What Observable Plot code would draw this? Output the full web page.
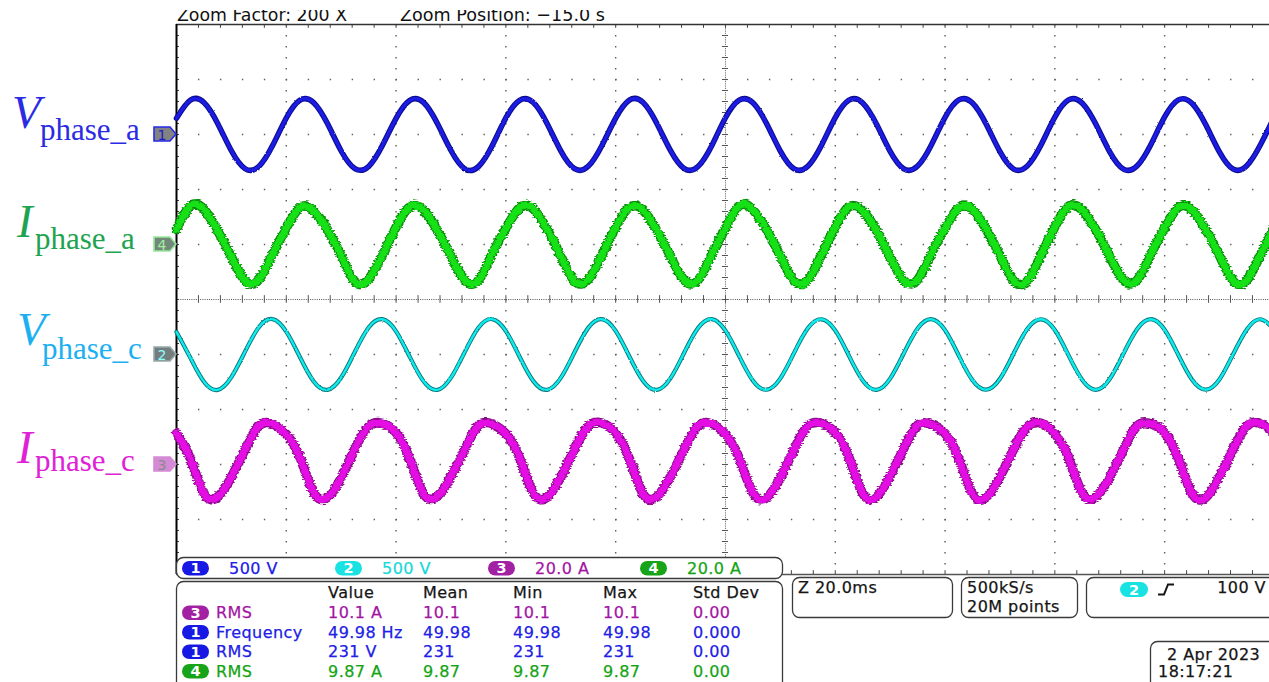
<!DOCTYPE html>
<html><head><meta charset="utf-8">
<script src="https://cdn.jsdelivr.net/npm/d3@7"></script>
<script src="https://cdn.jsdelivr.net/npm/@observablehq/plot@0.6"></script>
<style>
html,body{margin:0;padding:0;background:#fff;overflow:hidden;}
#chart svg{display:block;}
</style></head><body><div id="chart"></div>
<script>
// ---- sample instants (ms from left edge of the zoom window) ----
const timeMs = [0,2.5,5,7.5,10,12.5,15,17.5,20,22.5,25,27.5,30,32.5,35,37.5,40,42.5,45,47.5,50,52.5,55,57.5,60,62.5,65,67.5,70,72.5,75,77.5,80,82.5,85,87.5,90,92.5,95,97.5,100,102.5,105,107.5,110,112.5,115,117.5,120,122.5,125,127.5,130,132.5,135,137.5,140,142.5,145,147.5,150,152.5,155,157.5,160,162.5,165,167.5,170,172.5,175,177.5,180,182.5,185,187.5,190,192.5,195,197.5,200];

// ---- channel 1: V phase_a (V) ----
const vPhaseA = [
148,311,291,101,-148,-311,-291,-101,
150,312,289,99,-150,-310,-290,-100,
147,310,292,102,-146,-312,-292,-103,
151,311,290,100,-149,-311,-289,-99,
149,313,291,101,-147,-310,-291,-102,
152,312,288,98,-151,-312,-288,-97,
154,313,287,95,-154,-313,-287,-95,
156,314,286,93,-156,-314,-285,-93,
158,315,284,90,-158,-315,-284,-90,
160,315,282,88,-160,-315,-282,-88,
162];
// ---- channel 4: I phase_a (A) ----
const iPhaseA = [
5.5,14,12.8,5,-4.5,-13.2,-12.8,-3.5,
6,13.5,12.2,5.4,-4,-13.5,-12.6,-3.8,
6.3,13.8,12.5,5.2,-4.3,-12.9,-13.1,-3.4,
5.8,13.4,12.9,5.6,-4.1,-13.3,-12.7,-3.9,
6.2,13.6,12.4,5.1,-4.4,-13,-13,-3.6,
6,14.1,12.6,5.3,-4.2,-13.4,-12.9,-3.7,
6.5,13.7,12.3,5,-4.6,-13.1,-12.8,-3.3,
5.9,13.5,12.7,5.5,-4,-13.2,-13.2,-3.8,
6.4,13.9,12.4,5.2,-4.3,-13,-12.9,-3.5,
6.1,13.6,12.6,5.4,-4.1,-13.3,-13,-3.6,
6.2];
// ---- channel 2: V phase_c (V) ----
const vPhaseC = [
205,-28,-248,-322,-206,28,248,322,
208,-25,-246,-321,-209,25,246,321,
211,-22,-244,-322,-211,22,244,322,
213,-20,-242,-321,-213,20,242,321,
215,-18,-240,-322,-215,18,240,322,
217,-15,-238,-320,-217,15,238,320,
219,-12,-236,-321,-219,12,236,321,
221,-10,-234,-320,-221,10,234,320,
223,-8,-232,-321,-223,8,232,321,
225,-5,-230,-320,-225,5,230,320,
227];
// ---- channel 3: I phase_c (A) ----
const iPhaseC = [
11.3,2.2,-10.5,-11.8,-4.5,5.5,14,14.8,
11.0,2.5,-10.2,-12,-4.8,5.8,13.8,15,
11.5,2,-10.6,-11.6,-4.3,5.4,14.2,14.7,
11.2,2.4,-10.4,-11.9,-4.6,5.6,13.9,15.1,
11.4,2.1,-10.7,-11.7,-4.4,5.7,14.1,14.8,
11.1,2.3,-10.3,-12.1,-4.7,5.5,14,14.9,
11.6,2.6,-10.5,-11.8,-4.2,5.9,14.3,14.6,
11.3,2.2,-10.8,-11.9,-4.5,5.6,13.8,15,
11.2,2.4,-10.4,-11.7,-4.6,5.4,14.1,14.8,
11.5,2.1,-10.6,-12,-4.4,5.7,14,14.9,
11.3];

// ---- channel setup ----
const traceNames = ["V_phase_a","I_phase_a","V_phase_c","I_phase_c"];
const traceChannels = [1,4,2,3];
const traceOffsetsDiv = [3,1,-1,-3];
const traceUnitsPerDiv = [500,20,500,20];
const labelMain = ["V","I","V","I"];
const labelSub = ["phase_a","phase_a","phase_c","phase_c"];

// ---- on-screen readouts ----
const headerTexts = ["Zoom Factor: 200 X","Zoom Position: \u221215.0 s"];
const scaleChannels = [1,2,3,4];
const scaleLabels = ["500 V","500 V","20.0 A","20.0 A"];
const measureHeaders = ["Value","Mean","Min","Max","Std Dev"];
const measureChannels = [3,1,1,4];
const measureNames = ["RMS","Frequency","RMS","RMS"];
const measureValues = ["10.1 A","49.98 Hz","231 V","9.87 A"];
const measureMeans = ["10.1","49.98","231","9.87"];
const measureMins = ["10.1","49.98","231","9.87"];
const measureMaxs = ["10.1","49.98","231","9.87"];
const measureStdDevs = ["0.00","0.000","0.00","0.00"];
const timebaseText = "Z 20.0ms";
const acquisitionTexts = ["500kS/s","20M points"];
const triggerChannel = 2;
const triggerLevel = "100 V";
const dateTexts = ["2 Apr 2023","18:17:21"];

// ---- styling ----
const traceOuter = ["#0c0c8e","#0a8a0a","#0b7378","#8c0a8c"];
const traceInner = ["#1a1ae2","#12e012","#10ecec","#e410e4"];
const traceOuterW = [5.5,9.5,4.2,9.5];
const traceInnerW = [3.4,7,2.4,7];
const labelColors = ["#2b2be3","#1ea450","#1cb0f0","#e022d6"];
const badgeFill = {1:"#1818e4",2:"#18e2e2",3:"#a220a2",4:"#18a418"};
const uiText = {1:"#2020e6",2:"#18d8d8",3:"#a414a4",4:"#14a414"};

const traceValues = [vPhaseA,iPhaseA,vPhaseC,iPhaseC];
const traceRows = traceValues.map((vals,k) =>
  timeMs.map((t,i) => ({t, y: traceOffsetsDiv[k] + vals[i]/traceUnitsPerDiv[k]})));

const majorT = [20,40,60,80,120,140,160,180];
const majorDiv = [-4,-3,-2,-1,1,2,3,4];
const minorT = d3.range(0,200,4);
const minorDiv = d3.range(-5,5.001,0.2);
const gridColor = "#5e5e5e";

const traceMarks = [];
traceRows.forEach((rows,k) => {
  traceMarks.push(Plot.line(rows,{x:"t",y:"y",curve:"natural",stroke:traceOuter[k],strokeWidth:traceOuterW[k],strokeLinejoin:"round"}));
  traceMarks.push(Plot.line(rows,{x:"t",y:"y",curve:"natural",stroke:traceInner[k],strokeWidth:traceInnerW[k],strokeLinejoin:"round"}));
});

const plot = Plot.plot({
  width:1269, height:682,
  marginLeft:176, marginRight:0, marginTop:24, marginBottom:108,
  x:{domain:[0,199.1], axis:null},
  y:{domain:[-5,5], axis:null},
  style:{background:"#fff", overflow:"hidden"},
  marks:[
    Plot.ruleX(majorT,{stroke:gridColor,strokeWidth:1.4,strokeDasharray:"1.4 9.6"}),
    Plot.ruleY(majorDiv,{stroke:gridColor,strokeWidth:1.4,strokeDasharray:"1.4 20.56"}),
    Plot.ruleX([100],{stroke:"#555",strokeWidth:1,strokeDasharray:"1 1.2"}),
    Plot.ruleY([0],{stroke:"#555",strokeWidth:1,strokeDasharray:"1 1.2"}),
    Plot.ruleY(minorDiv,{x1:100-0.55,x2:100+0.55,stroke:"#555",strokeWidth:1}),
    Plot.ruleX(minorT,{y1:-0.07,y2:0.07,stroke:"#555",strokeWidth:1}),
    Plot.ruleY(minorDiv,{x1:0,x2:0.55,stroke:"#444",strokeWidth:1}),
    Plot.ruleX(minorT,{y1:5,y2:4.93,stroke:"#444",strokeWidth:1}),
    Plot.ruleX(minorT,{y1:-5,y2:-4.93,stroke:"#444",strokeWidth:1}),
    Plot.ruleY([5],{stroke:"#333",strokeWidth:1.6}),
    Plot.ruleY([-5],{stroke:"#555",strokeWidth:1.4}),
    Plot.ruleX([0],{stroke:"#000",strokeWidth:2}),
    ...traceMarks
  ]
});
document.getElementById("chart").appendChild(plot);

const yScale = plot.scale("y");
const svg = d3.select(plot);

// jitter filter to mimic the noisy scope traces
const defs = svg.insert("defs",":first-child");
function addJitter(id, freq, scale, seed){
  const f = defs.append("filter").attr("id",id).attr("filterUnits","userSpaceOnUse")
    .attr("x",0).attr("y",0).attr("width",1269).attr("height",682);
  f.append("feTurbulence").attr("type","fractalNoise").attr("baseFrequency",freq)
    .attr("numOctaves",2).attr("seed",seed).attr("result","n");
  f.append("feDisplacementMap").attr("in","SourceGraphic").attr("in2","n")
    .attr("scale",scale).attr("xChannelSelector","R").attr("yChannelSelector","G");
}
addJitter("jitV","0.6 0.9",1.8,2);
addJitter("jitI","0.12 0.7",4.5,5);
const lineGroups = plot.querySelectorAll('g[aria-label="line"]');
lineGroups.forEach((g,i) => {
  const k = Math.floor(i/2);
  g.setAttribute("filter", (k===1||k===3) ? "url(#jitI)" : "url(#jitV)");
});

const font = "'DejaVu Sans', Verdana, sans-serif";
const ui = svg.append("g").attr("font-family",font).attr("text-anchor","start");

// header (top cut off like the screenshot)
ui.append("text").attr("x",177).attr("y",20.5).attr("font-size",18).attr("fill","#111")
  .attr("textLength",170).attr("lengthAdjust","spacingAndGlyphs").text(headerTexts[0]);
ui.append("text").attr("x",400).attr("y",20.5).attr("font-size",18).attr("fill","#111")
  .attr("textLength",205).attr("lengthAdjust","spacingAndGlyphs").text(headerTexts[1]);
ui.append("rect").attr("x",0).attr("y",0).attr("width",1269).attr("height",10).attr("fill","#fff");

// left labels
const labelPos = [
  {mx:12, my:128, sx:40, sy:140},
  {mx:17, my:237, sx:35, sy:249},
  {mx:17, my:345, sx:42, sy:359},
  {mx:17, my:463, sx:35, sy:471}
];
const serif = "'Liberation Serif','DejaVu Serif',serif";
labelPos.forEach((p,k) => {
  ui.append("text").attr("x",p.mx).attr("y",p.my).attr("font-family",serif).attr("font-style","italic")
    .attr("font-size",47).attr("fill",labelColors[k]).text(labelMain[k]);
  ui.append("text").attr("x",p.sx).attr("y",p.sy).attr("font-family",serif)
    .attr("font-size",31).attr("fill",labelColors[k]).text(labelSub[k]);
});

// channel ground markers
const markerFill = {1:"#828282",4:"#72887a",2:"#737d7d",3:"#d48ad4"};
const markerStroke = {1:"#2a2ae6",4:"#96e896",2:"#9aa",3:"#d48ad4"};
const markerText = {1:"#1c1cc8",4:"#a0f0a0",2:"#8ff",3:"#8a8a8a"};
traceChannels.forEach((ch,k) => {
  const y = yScale.apply(traceOffsetsDiv[k]);
  ui.append("path").attr("d",`M154,${y-7}H170L176,${y}L170,${y+7}H154Z`)
    .attr("fill",markerFill[ch]).attr("stroke",markerStroke[ch]).attr("stroke-width",1.6);
  ui.append("text").attr("x",162).attr("y",y+5.5).attr("text-anchor","middle")
    .attr("font-size",14).attr("fill",markerText[ch]).text(ch);
});

// badge helper
function badge(x,y,w,h,ch){
  ui.append("rect").attr("x",x).attr("y",y).attr("width",w).attr("height",h).attr("rx",h/2)
    .attr("fill",badgeFill[ch]);
  ui.append("text").attr("x",x+w/2).attr("y",y+h-2.2).attr("text-anchor","middle")
    .attr("font-size",14.5).attr("font-weight","bold").attr("fill","#fff").text(ch);
}
function box(x,y,w,h){
  ui.append("rect").attr("x",x).attr("y",y).attr("width",w).attr("height",h).attr("rx",7)
    .attr("fill","#fff").attr("stroke","#3a3a3a").attr("stroke-width",1.3);
}
function uiLabel(x,y,txt,color,anchor){
  return ui.append("text").attr("x",x).attr("y",y).attr("font-size",16).attr("letter-spacing",0.45)
    .attr("fill",color).attr("stroke",color).attr("stroke-width",0.25)
    .attr("text-anchor",anchor||"start").text(txt);
}

// channel scale row
box(176.5,557.5,606,21);
const scaleX = [182,335,488,640];
scaleChannels.forEach((ch,i) => {
  badge(scaleX[i],561,27,14.5,ch);
  uiLabel(scaleX[i]+47,574,scaleLabels[i],uiText[ch]);
});

// measurement table
box(176.5,581.5,606,120);
const colX = [328,423,513,603,693];
measureHeaders.forEach((h,i) => uiLabel(colX[i],598,h,"#151515"));
const rowY = [618,637.5,657,676.5];
measureNames.forEach((name,r) => {
  const ch = measureChannels[r];
  badge(182,rowY[r]-12.5,27,14.5,ch);
  const cells = [measureValues[r],measureMeans[r],measureMins[r],measureMaxs[r],measureStdDevs[r]];
  uiLabel(216,rowY[r],name,uiText[ch]);
  cells.forEach((c,i) => uiLabel(colX[i],rowY[r],c,uiText[ch]));
});

// timebase / acquisition / trigger boxes
box(792.5,577.5,160,40);
uiLabel(798,593,timebaseText,"#151515");
box(961.5,577.5,116,40);
acquisitionTexts.forEach((t,i) => uiLabel(967,593+19*i,t,"#151515"));
box(1086.5,577.5,220,40);
badge(1120,582,28,15,triggerChannel);
ui.append("path").attr("d","M1158,594.5H1164L1168,584.5H1174").attr("fill","none")
  .attr("stroke","#151515").attr("stroke-width",2);
uiLabel(1266,593,triggerLevel,"#151515","end");

// date box
box(1150.5,641.5,160,70);
uiLabel(1167,660,dateTexts[0],"#151515");
uiLabel(1158,677,dateTexts[1],"#151515");
</script>
</body></html>
